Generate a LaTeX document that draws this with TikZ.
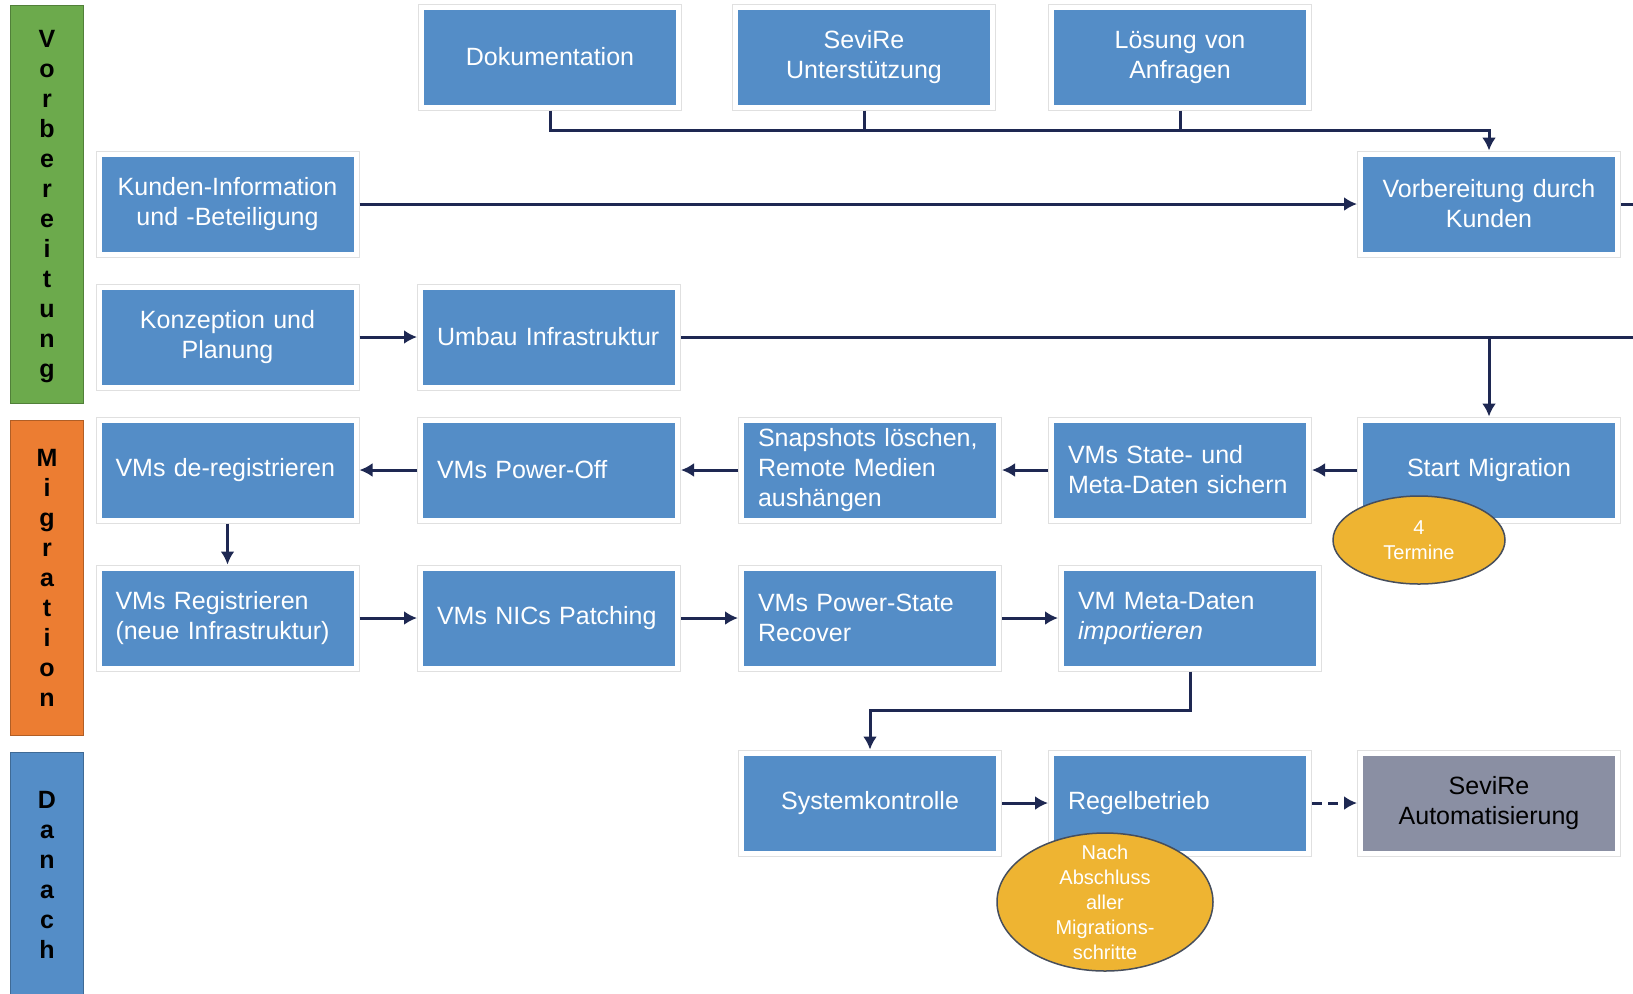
\documentclass[tikz,border=0pt]{standalone}
\usepackage{fontspec}
\setmainfont{Liberation Sans}
\usetikzlibrary{arrows.meta,shapes.geometric}
\definecolor{boxblue}{RGB}{84,141,199}
\definecolor{bargreen}{RGB}{108,170,76}
\definecolor{barorange}{RGB}{236,125,50}
\definecolor{notegold}{RGB}{238,180,50}
\definecolor{notedraw}{RGB}{70,78,92}
\definecolor{autogray}{RGB}{138,143,163}
\definecolor{linenavy}{RGB}{30,40,82}
\begin{document}
\begin{tikzpicture}[x=0.5pt, y=-0.5pt,
  main/.style = {fill=boxblue, text=white, text width=112pt, inner xsep=7pt, inner ysep=1pt, minimum height=47.5pt, align=center, font=\fontsize{12.5}{15}\selectfont, outer sep=3pt, preaction={draw=black!12, line width=6pt}, preaction={draw=white, line width=5pt}},
  mainl/.style = {main, align=left},
  bar/.style = {fill=#1, draw=#1!75!black, minimum width=36.5pt, inner sep=0pt, align=center, font=\bfseries\fontsize{12.5}{15}\selectfont},
  note/.style = {ellipse, fill=notegold, draw=notedraw, line width=0.75pt, inner sep=0pt},
  notetext/.style = {text=white, align=center, font=\fontsize{10}{12.5}\selectfont},
  arr/.style = {draw=linenavy, line width=1.5pt, -{Latex[length=6.5pt,width=7pt]}},
  conn/.style = {draw=linenavy, line width=1.5pt}]
\useasboundingbox (0,0) rectangle (1633,993);
\clip (0,0) rectangle (1633,993);
\fill[white] (0,0) rectangle (1633,993);
\coordinate (rand) at (1633,0);
\coordinate (bus) at (0,130);
\node[bar=bargreen, minimum height=199pt, text depth=-2pt] (b1) at (47,204) {V\\o\\r\\b\\e\\r\\e\\i\\t\\u\\n\\g};
\node[bar=barorange, minimum height=157.5pt] (b2) at (47,577.5) {M\\i\\g\\r\\a\\t\\i\\o\\n};
\node[bar=boxblue, minimum height=123pt] (b3) at (47,875) {D\\a\\n\\a\\c\\h};
\node[main] (v1) at (550,57) {Dokumentation};
\node[main] (v2) at (864,57) {SeviRe\\Unterstützung};
\node[main] (v3) at (1180,57) {Lösung von\\Anfragen};
\node[main] (v4) at (227.5,204) {Kunden-Information\\und -Beteiligung};
\node[main] (v5) at (1489,204) {Vorbereitung durch\\Kunden};
\node[main] (v6) at (227.5,337) {Konzeption und\\Planung};
\node[mainl] (v7) at (549,337) {Umbau Infrastruktur};
\node[main] (m1) at (1489,470) {Start Migration};
\node[mainl] (m2) at (1180,470) {VMs State- und\\Meta-Daten sichern};
\node[mainl] (m3) at (870,470) {Snapshots löschen,\\Remote Medien\\aushängen};
\node[mainl] (m4) at (549,470) {VMs Power-Off};
\node[mainl] (m5) at (227.5,470) {VMs de-registrieren};
\node[mainl] (m6) at (227.5,618) {VMs Registrieren\\(neue Infrastruktur)};
\node[mainl] (m7) at (549,618) {VMs NICs Patching};
\node[mainl] (m8) at (870,618) {VMs Power-State\\Recover};
\node[mainl] (m9) at (1190,618) {VM Meta-Daten\\\textit{importieren}};
\node[main] (d1) at (870,803) {Systemkontrolle};
\node[mainl] (d2) at (1180,803) {Regelbetrieb};
\node[main, fill=autogray, text=black] (d3) at (1489,803) {SeviRe\\Automatisierung};
\draw[arr] (v1.south) -- (v1.south |- bus) -| (v5.north);
\draw[conn] (v2.south) -- (v2.south |- bus);
\draw[conn] (v3.south) -- (v3.south |- bus);
\draw[arr] (v4) -- (v5);
\draw[conn] (v5.east) -- (v5.east -| rand);
\draw[arr] (v6) -- (v7);
\draw[conn] (v7.east) -- (v7.east -| rand);
\draw[arr] (m1.north |- v7.east) -- (m1.north);
\draw[arr] (m1) -- (m2);
\draw[arr] (m2) -- (m3);
\draw[arr] (m3) -- (m4);
\draw[arr] (m4) -- (m5);
\draw[arr] (m5) -- (m6);
\draw[arr] (m6) -- (m7);
\draw[arr] (m7) -- (m8);
\draw[arr] (m8) -- (m9);
\draw[arr] (m9.south) -- ++(0,39) -| (d1.north);
\draw[arr] (d1) -- (d2);
\draw[arr, dash pattern=on 5pt off 3pt] (d2) -- (d3);
\node[note, minimum width=86pt, minimum height=44pt] (e1) at (1419,540) {};
\node[notetext] (t1) at (e1) {4\\Termine};
\node[note, minimum width=108pt, minimum height=69pt] (e2) at (1105,902) {};
\node[notetext] (t2) at (e2) {Nach\\Abschluss\\aller\\Migrations-\\schritte};
\end{tikzpicture}
\end{document}
